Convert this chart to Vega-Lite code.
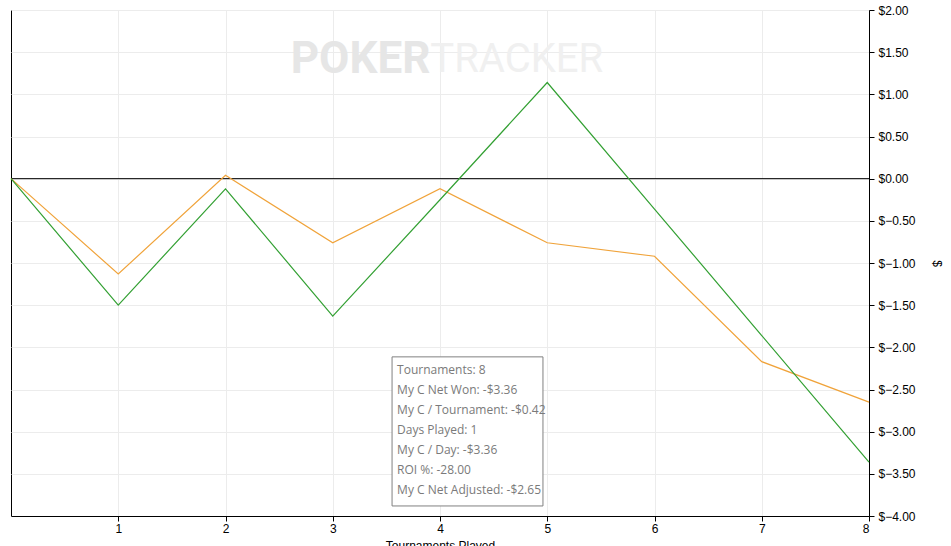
{
  "$schema": "https://vega.github.io/schema/vega-lite/v6.json",
  "width": 858,
  "height": 506,
  "autosize": "none",
  "padding": {"left": 11, "top": 10, "right": 82, "bottom": 30},
  "background": "white",
  "config": {
    "view": {"stroke": "black", "strokeWidth": 1},
    "font": "Liberation Sans",
    "axis": {
      "labelFont": "Liberation Sans",
      "labelFontSize": 12,
      "labelColor": "black",
      "titleFont": "Liberation Sans",
      "titleFontSize": 12,
      "titleFontWeight": "normal",
      "titleColor": "black",
      "domainColor": "black",
      "tickColor": "black",
      "tickSize": 5,
      "grid": true,
      "gridColor": "#ececec",
      "gridWidth": 1
    }
  },
  "layer": [
    {
      "data": {"values": [{"k": 1}]},
      "mark": {"type": "text", "text": "POKER", "font": "Roboto", "fontWeight": "bold", "fontSize": 44, "align": "right", "baseline": "middle", "color": "#e6e6e6"},
      "encoding": {"x": {"datum": 3.91, "type": "quantitative"}, "y": {"datum": 1.41, "type": "quantitative"}}
    },
    {
      "data": {"values": [{"k": 1}]},
      "mark": {"type": "text", "text": "TRACKER", "font": "Roboto", "fontSize": 40, "align": "left", "baseline": "middle", "color": "#f0f0f0"},
      "encoding": {"x": {"datum": 3.91, "type": "quantitative"}, "y": {"datum": 1.41, "type": "quantitative"}}
    },
    {
      "data": {"values": [{"k": 1}]},
      "mark": {"type": "rule", "color": "black", "strokeWidth": 1},
      "encoding": {"y": {"datum": 0, "type": "quantitative"}, "x": {"datum": 0, "type": "quantitative"}, "x2": {"datum": 8}}
    },
    {
      "data": {
        "values": [
          {"played": 0, "series": "My C Net Adjusted", "amount": 0},
          {"played": 1, "series": "My C Net Adjusted", "amount": -1.13},
          {"played": 2, "series": "My C Net Adjusted", "amount": 0.04},
          {"played": 3, "series": "My C Net Adjusted", "amount": -0.76},
          {"played": 4, "series": "My C Net Adjusted", "amount": -0.12},
          {"played": 5, "series": "My C Net Adjusted", "amount": -0.76},
          {"played": 6, "series": "My C Net Adjusted", "amount": -0.92},
          {"played": 7, "series": "My C Net Adjusted", "amount": -2.17},
          {"played": 8, "series": "My C Net Adjusted", "amount": -2.65},
          {"played": 0, "series": "My C Net Won", "amount": 0},
          {"played": 1, "series": "My C Net Won", "amount": -1.5},
          {"played": 2, "series": "My C Net Won", "amount": -0.12},
          {"played": 3, "series": "My C Net Won", "amount": -1.63},
          {"played": 4, "series": "My C Net Won", "amount": -0.25},
          {"played": 5, "series": "My C Net Won", "amount": 1.14},
          {"played": 6, "series": "My C Net Won", "amount": -0.36},
          {"played": 7, "series": "My C Net Won", "amount": -1.86},
          {"played": 8, "series": "My C Net Won", "amount": -3.36}
        ]
      },
      "mark": {"type": "line", "strokeWidth": 1.2, "interpolate": "linear"},
      "encoding": {
        "x": {
          "field": "played",
          "type": "quantitative",
          "scale": {"domain": [0, 8], "nice": false, "zero": false},
          "axis": {
            "values": [1, 2, 3, 4, 5, 6, 7, 8],
            "format": "d",
            "grid": true,
            "title": "Tournaments Played",
            "titlePadding": 6,
            "labelPadding": 2
          }
        },
        "y": {
          "field": "amount",
          "type": "quantitative",
          "scale": {"domain": [-4, 2], "nice": false},
          "axis": {
            "orient": "right",
            "values": [-4, -3.5, -3, -2.5, -2, -1.5, -1, -0.5, 0, 0.5, 1, 1.5, 2],
            "labelExpr": "'$' + format(datum.value, '.2f')",
            "grid": true,
            "title": "$",
            "titlePadding": 14,
            "labelPadding": 4
          }
        },
        "color": {
          "field": "series",
          "type": "nominal",
          "scale": {"domain": ["My C Net Adjusted", "My C Net Won"], "range": ["#f0a33a", "#33a033"]},
          "legend": null
        }
      }
    },
    {
      "data": {"values": [{"k": 1}]},
      "mark": {"type": "rect", "fill": "white", "stroke": "#808080", "strokeWidth": 1},
      "encoding": {
        "x": {"datum": 3.553, "type": "quantitative"},
        "x2": {"datum": 4.96},
        "y": {"datum": -2.113, "type": "quantitative"},
        "y2": {"datum": -3.881}
      }
    },
    {
      "data": {"values": [{"k": 1}]},
      "mark": {
        "type": "text",
        "text": ["Tournaments: 8", "My C Net Won: -$3.36", "My C / Tournament: -$0.42", "Days Played: 1", "My C / Day: -$3.36", "ROI %: -28.00", "My C Net Adjusted: -$2.65"],
        "lineHeight": 20,
        "font": "Open Sans",
        "fontWeight": "normal",
        "fontSize": 12,
        "color": "#7a7a7a",
        "align": "left",
        "baseline": "middle"
      },
      "encoding": {"x": {"datum": 3.6, "type": "quantitative"}, "y": {"datum": -2.267, "type": "quantitative"}}
    }
  ]
}
